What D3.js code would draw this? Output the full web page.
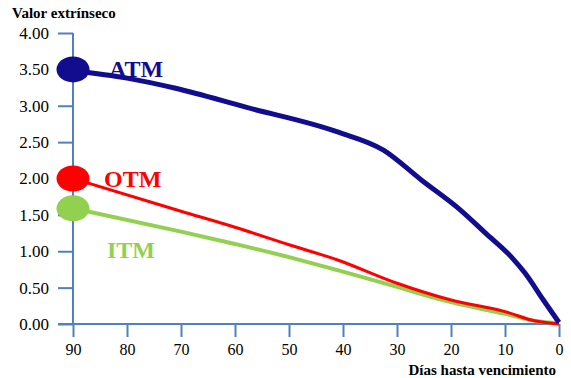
<!DOCTYPE html>
<html>
<head>
<meta charset="utf-8">
<script src="https://cdn.jsdelivr.net/npm/d3@7"></script>
<style>
  body { margin: 0; background: #fff; }
  svg text { font-family: "Times New Roman", Times, "Liberation Serif", serif; }
</style>
</head>
<body>
<div id="chart"></div>
<script>
// Valor extrínseco vs días hasta vencimiento

// data (days, value)
const atmDays   = [90, 80, 71, 58, 41, 32.5, 25.5, 18.3, 13.6, 8.8, 6.3, 2.9, 0];
const atmValues = [3.48, 3.38, 3.24, 2.98, 2.64, 2.39, 1.98, 1.57, 1.25, 0.92, 0.70, 0.33, 0.02];

const otmDays   = [90, 70, 60, 50, 41, 30, 20, 10, 4.3, 0];
const otmValues = [2.0, 1.55, 1.33, 1.09, 0.88, 0.56, 0.33, 0.17, 0.04, 0.0];

const itmDays   = [90, 70, 60, 50, 41, 30, 20, 10, 4.3, 0];
const itmValues = [1.59, 1.27, 1.10, 0.92, 0.74, 0.51, 0.30, 0.14, 0.04, 0.01];

const seriesNames = ["ATM", "OTM", "ITM"];
const xTicks = [90, 80, 70, 60, 50, 40, 30, 20, 10, 0];
const yTicks = [0, 0.5, 1, 1.5, 2, 2.5, 3, 3.5, 4];

const W = 571, H = 378;
const margin = {top: 33, right: 12, bottom: 54, left: 73};
const width = W - margin.left - margin.right,
      height = H - margin.top - margin.bottom;

const serif = '"Times New Roman", Times, "Liberation Serif", serif';

const colors = {
    axis: '#4F81BD',
    ATM: '#120C8E',
    OTM: '#FF0000',
    ITM: '#92D050'
};

const svg = d3.select("#chart").append("svg")
    .attr("width", W)
    .attr("height", H)
    .attr("font-family", serif);

const g = svg.append("g")
    .attr("transform", "translate(" + margin.left + "," + margin.top + ")");

// scales
const x = d3.scaleLinear().domain([90, 0]).range([0, width]);
const y = d3.scaleLinear().domain([0, 4]).range([height, 0]);

// y axis
const yAxis = d3.axisLeft(y)
    .tickValues(yTicks)
    .tickSize(15)
    .tickPadding(9)
    .tickFormat(d3.format(".2f"));

const yG = g.append("g").attr("class", "y-axis").call(yAxis)
    .attr("font-family", serif);
yG.select(".domain").remove();
yG.selectAll("line").attr("stroke", colors.axis).attr("stroke-width", 2);
yG.selectAll("text").attr("font-size", 17).attr("fill", "#000");

// x axis
const xAxis = d3.axisBottom(x)
    .tickValues(xTicks)
    .tickSize(13)
    .tickPadding(7)
    .tickFormat(d3.format("d"));

const xG = g.append("g").attr("class", "x-axis")
    .attr("transform", "translate(0," + height + ")")
    .call(xAxis)
    .attr("font-family", serif);
xG.select(".domain").remove();
xG.selectAll("line").attr("stroke", colors.axis).attr("stroke-width", 2);
xG.selectAll("text").attr("font-size", 16).attr("fill", "#000");

// axis lines
g.append("line")
    .attr("x1", x(90)).attr("x2", x(90))
    .attr("y1", y(4)).attr("y2", height)
    .attr("stroke", colors.axis).attr("stroke-width", 2);
g.append("line")
    .attr("x1", -15).attr("x2", x(0))
    .attr("y1", y(0)).attr("y2", y(0))
    .attr("stroke", colors.axis).attr("stroke-width", 2);

// titles
svg.append("text")
    .attr("x", 12).attr("y", 18)
    .attr("font-size", 15).attr("font-weight", "bold")
    .text("Valor extrínseco");

svg.append("text")
    .attr("x", margin.left + width - 3).attr("y", 375)
    .attr("text-anchor", "end")
    .attr("font-size", 15).attr("font-weight", "bold")
    .text("Días hasta vencimiento");

// lines
const series = [
    {name: "ATM", days: atmDays, values: atmValues, width: 5},
    {name: "OTM", days: otmDays, values: otmValues, width: 3},
    {name: "ITM", days: itmDays, values: itmValues, width: 4}
];

const line = d3.line()
    .x(d => x(d[0]))
    .y(d => y(d[1]))
    .curve(d3.curveMonotoneX);

// draw ITM first so the others sit on top
[series[2], series[1], series[0]].forEach(s => {
    const pts = s.days.map((d, i) => [d, s.values[i]]);
    g.append("path")
        .datum(pts)
        .attr("fill", "none")
        .attr("stroke", colors[s.name])
        .attr("stroke-width", s.width)
        .attr("stroke-linejoin", "round")
        .attr("d", line);
});

// start markers
const markerVals = {ATM: 3.5, OTM: 2.0, ITM: 1.59};
series.forEach(s => {
    g.append("ellipse")
        .attr("cx", x(90))
        .attr("cy", y(markerVals[s.name]))
        .attr("rx", 16.5).attr("ry", 13)
        .attr("fill", colors[s.name]);
});

// series labels
const labelPos = {ATM: [36, 3.5, 0], OTM: [31, 2.0, 0], ITM: [34, 1.59, 42]};
seriesNames.forEach(n => {
    g.append("text")
        .attr("x", labelPos[n][0])
        .attr("y", y(labelPos[n][1]) + labelPos[n][2] + 8)
        .attr("font-size", 24).attr("font-weight", "bold")
        .attr("fill", colors[n])
        .text(n);
});
</script>
</body>
</html>
